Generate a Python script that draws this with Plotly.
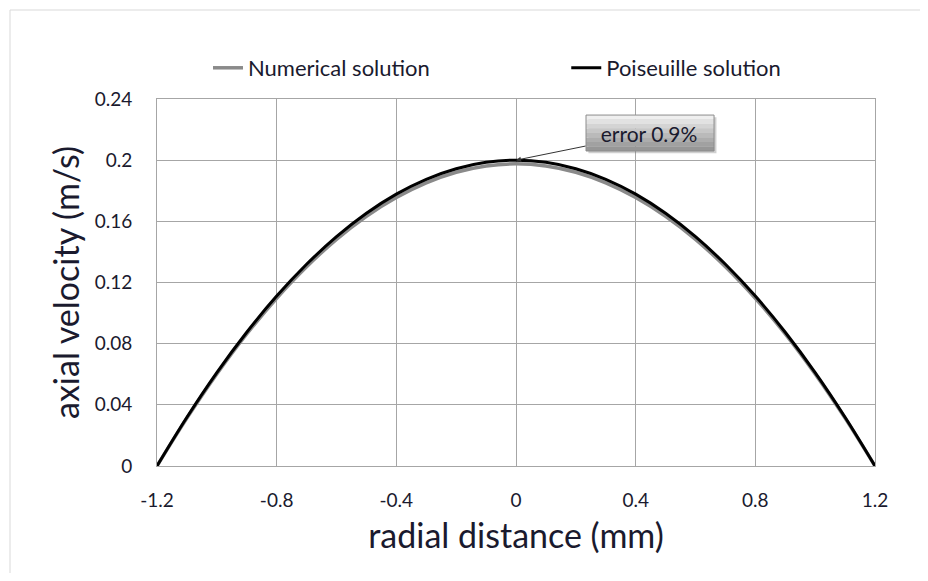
import plotly.graph_objects as go

# radial distance (mm)
radial = [-1.2, -1.1, -1.0, -0.9, -0.8, -0.7, -0.6, -0.5, -0.4, -0.3, -0.2, -0.1, 0.0,
          0.1, 0.2, 0.3, 0.4, 0.5, 0.6, 0.7, 0.8, 0.9, 1.0, 1.1, 1.2]
# axial velocity (m/s)
poiseuille = [0.0, 0.0319, 0.0611, 0.0875, 0.1111, 0.1319, 0.150, 0.1653, 0.1778, 0.1875,
              0.1944, 0.1986, 0.200,
              0.1986, 0.1944, 0.1875, 0.1778, 0.1653, 0.150, 0.1319, 0.1111, 0.0875, 0.0611, 0.0319, 0.0]
numerical = [0.0, 0.0313, 0.0602, 0.0864, 0.1097, 0.1303, 0.1482, 0.1633, 0.1756, 0.1852,
             0.1921, 0.1962, 0.1976,
             0.1962, 0.1921, 0.1852, 0.1756, 0.1633, 0.1482, 0.1303, 0.1097, 0.0864, 0.0602, 0.0313, 0.0]

x_ticks = [-1.2, -0.8, -0.4, 0, 0.4, 0.8, 1.2]
x_ticktext = ["-1.2", "-0.8", "-0.4", "0", "0.4", "0.8", "1.2"]
y_ticks = [0, 0.04, 0.08, 0.12, 0.16, 0.2, 0.24]
y_ticktext = ["0", "0.04", "0.08", "0.12", "0.16", "0.2", "0.24"]

FONT = "Lato, 'Open Sans', sans-serif"
TXT = "#1a1a2e"

fig = go.Figure()
fig.add_trace(go.Scatter(x=radial, y=numerical, mode="lines", name="Numerical solution",
                         legend="legend",
                         line=dict(color="#8a8a8a", width=3.5, shape="spline")))
fig.add_trace(go.Scatter(x=radial, y=poiseuille, mode="lines", name="Poiseuille solution",
                         legend="legend2",
                         line=dict(color="#000000", width=3, shape="spline")))

legend_common = dict(orientation="h", y=1.0845, yanchor="middle", itemwidth=30,
                     font=dict(size=22, color=TXT, family=FONT), bgcolor="rgba(0,0,0,0)")

W, H = 912, 565
fig.update_layout(
    width=W, height=H,
    margin=dict(l=149, r=45, t=91, b=107),
    paper_bgcolor="white", plot_bgcolor="white",
    font=dict(family=FONT, color=TXT, size=19),
    showlegend=True,
    legend=dict(x=0.071, xanchor="left", **legend_common),
    legend2=dict(x=0.570, xanchor="left", **legend_common),
    xaxis=dict(range=[-1.2, 1.2], tickvals=x_ticks, ticktext=x_ticktext,
               showgrid=True, gridcolor="#a6a6a6", gridwidth=1,
               showline=True, linecolor="#a6a6a6", linewidth=1, mirror=True,
               zeroline=False, ticks="", ticklabelstandoff=17, tickfont=dict(size=19, color=TXT),
               title=dict(text="radial distance (mm)", font=dict(size=34, color=TXT), standoff=14)),
    yaxis=dict(range=[0, 0.24], tickvals=y_ticks, ticktext=y_ticktext,
               showgrid=True, gridcolor="#a6a6a6", gridwidth=1,
               showline=True, linecolor="#a6a6a6", linewidth=1, mirror=True,
               zeroline=False, ticks="", ticklabelstandoff=20, tickfont=dict(size=19, color=TXT),
               title=dict(text="axial velocity (m/s)", font=dict(size=34, color=TXT), standoff=4)),
)

# outer chart frame: only its top and left edges are visible in the reference
fx0, fy1 = (2 - 149) / 718, (458 - 2) / 367
fig.add_shape(type="line", xref="paper", yref="paper", x0=fx0, x1=1.2, y0=fy1, y1=fy1,
              line=dict(color="#d9d9d9", width=1), layer="below")
fig.add_shape(type="line", xref="paper", yref="paper", x0=fx0, x1=fx0, y0=-0.5, y1=fy1,
              line=dict(color="#d9d9d9", width=1), layer="below")

# gradient callout box behind the annotation text (decoration)
bx0, bx1, by_top, by_bot = 0.234, 0.662, 0.2295, 0.2060
shadow_dx, shadow_dy = 0.008, 0.0015
fig.add_shape(type="rect", xref="x", yref="y", x0=bx0 + shadow_dx, x1=bx1 + shadow_dx,
              y0=by_bot - shadow_dy, y1=by_top - shadow_dy,
              line=dict(width=0), fillcolor="rgba(120,120,120,0.35)", layer="above")
grad = ["#efefef", "#e2e2e2", "#d4d4d4", "#c7c7c7", "#bababa", "#adadad", "#a1a1a1", "#969696"]
n = len(grad)
for i, c in enumerate(grad):
    y1 = by_top - (by_top - by_bot) * i / n
    y0 = by_top - (by_top - by_bot) * (i + 1) / n
    fig.add_shape(type="rect", xref="x", yref="y", x0=bx0, x1=bx1, y0=y0, y1=y1,
                  line=dict(width=0), fillcolor=c, layer="above")
fig.add_shape(type="rect", xref="x", yref="y", x0=bx0, x1=bx1, y0=by_bot, y1=by_top,
              line=dict(color="#8c8c8c", width=1), fillcolor="rgba(0,0,0,0)", layer="above")

fig.add_annotation(x=0, y=0.2, xref="x", yref="y", text="error 0.9%",
                   showarrow=True, arrowhead=2, arrowsize=1, arrowwidth=1, arrowcolor="#333333",
                   ax=133, ay=-27, bgcolor="rgba(0,0,0,0)", bordercolor="rgba(0,0,0,0)", borderwidth=1,
                   borderpad=8, width=110, height=20, font=dict(size=21, color=TXT, family=FONT))

fig.write_html("out.html")
